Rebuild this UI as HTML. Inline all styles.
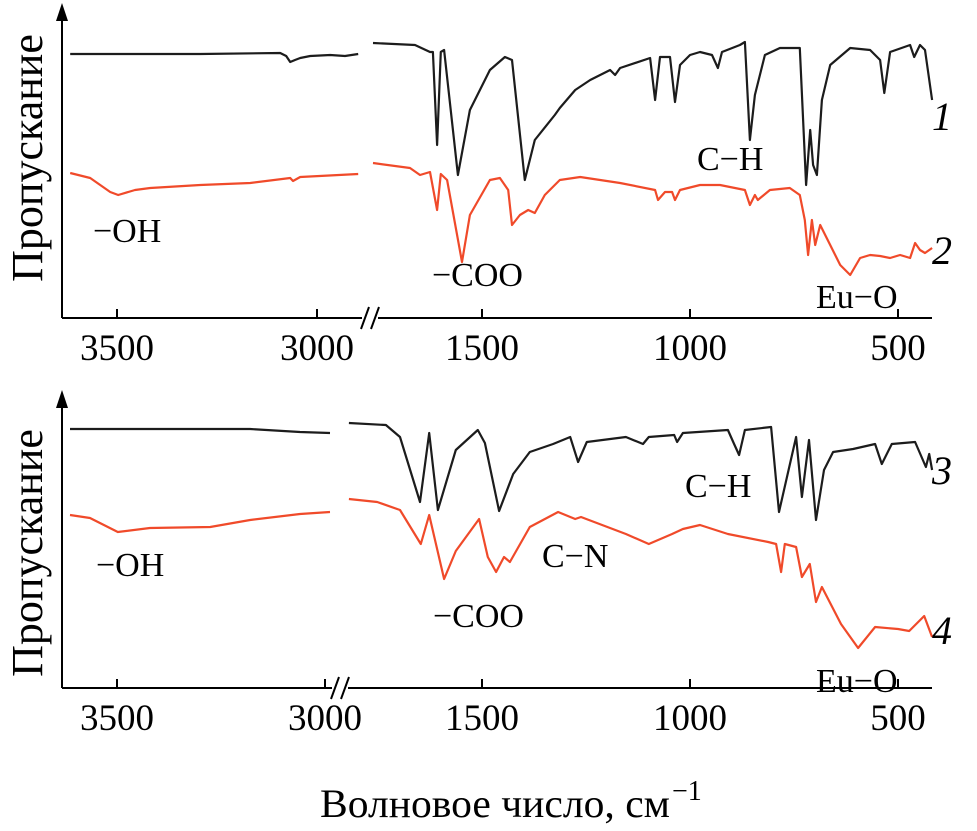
<!DOCTYPE html>
<html><head><meta charset="utf-8"><style>
html,body{margin:0;padding:0;background:#fff;}
svg{display:block;font-family:"Liberation Serif",serif;}
</style></head><body>
<svg id="chart" width="977" height="831" viewBox="0 0 977 831" xmlns="http://www.w3.org/2000/svg">
<g id="g"></g>
</svg>
<script>
// ===== Data (wavenumber cm^-1, transmittance a.u.) =====
const s1LeftWn = [3617,3292,3092,3077,3067,3055,3042,3017,2967,2930,2897];
const s1LeftT  = [264,264,265,262,256,258,260,262,263,262,264];
const s1RightWn = [1762,1661,1625,1618,1608,1599,1591,1558,1529,1481,1445,1428,1397,1373,1325,1313,1276,1240,1192,1180,1168,1096,1084,1072,1048,1036,1024,1000,976,947,933,923,880,868,856,844,820,784,736,721,711,704,695,683,663,615,567,543,533,519,471,461,447,435,418];
const s1RightT  = [275,273,266,266,173,266,268,143,208,248,261,258,138,178,203,210,228,238,248,243,250,260,218,261,261,216,253,263,266,263,250,266,273,276,178,223,263,270,270,133,188,153,143,218,253,270,268,258,225,266,273,261,273,268,218];
const s2LeftWn = [3617,3567,3517,3497,3455,3417,3292,3167,3067,3060,3042,2897];
const s2LeftT  = [145,140,126,123,128,130,133,135,140,137,141,144];
const s2RightWn = [1762,1673,1649,1625,1608,1599,1584,1548,1529,1481,1457,1437,1428,1409,1389,1373,1349,1313,1264,1168,1084,1077,1060,1043,1036,1024,976,928,868,856,844,837,808,760,736,724,716,707,699,687,663,639,615,591,567,543,519,495,471,459,447,435,418];
const s2RightT  = [155,150,143,146,108,144,138,56,103,138,140,128,93,103,108,105,123,138,141,135,128,118,126,126,118,128,133,133,128,113,123,118,128,130,123,98,63,98,73,93,73,53,43,60,63,62,60,63,60,75,68,65,70];
const s3LeftWn = [3613,3180,3060,2988];
const s3LeftT  = [259,259,256,255];
const s3RightWn = [1820,1731,1697,1649,1627,1606,1563,1510,1493,1459,1425,1385,1329,1288,1269,1248,1154,1113,1099,1038,1031,1017,909,894,882,868,805,786,745,731,714,697,678,656,608,555,539,515,459,433,425,418];
const s3RightT  = [265,263,251,186,255,178,238,258,245,177,214,236,244,251,226,246,251,244,251,253,246,255,258,244,233,258,261,176,251,191,248,168,218,236,239,244,224,244,246,221,234,218];
const s4LeftWn = [3613,3565,3498,3421,3276,3180,3060,2988];
const s4LeftT  = [173,170,156,160,161,168,174,176];
const s4RightWn = [1820,1752,1697,1647,1627,1591,1563,1507,1486,1466,1447,1433,1385,1317,1276,1262,1154,1099,1043,1017,976,909,812,793,781,772,745,731,712,697,683,637,596,555,500,473,437,418];
const s4RightT  = [189,186,178,144,173,109,137,169,131,116,131,126,161,176,169,171,154,144,154,159,163,154,146,144,116,144,141,111,124,86,101,64,40,61,59,57,72,51];
const topTicksLeft = [3500,3000];
const botTicksLeft = [3500,3000];
const ticksRight = [1500,1000,500];

const NS="http://www.w3.org/2000/svg";
const g=document.getElementById('g');
function mk(tag,attrs,parent){const e=document.createElementNS(NS,tag);for(const k in attrs)e.setAttribute(k,attrs[k]);(parent||g).appendChild(e);return e;}

const xRight = wn => 482 + (1500 - wn) * 0.416;
const xLeftTop = wn => 117 + (3500 - wn) * 0.4;
const xLeftBot = wn => 117 + (3500 - wn) * 0.416;
const yTop = v => 318 - v;
const yBot = v => 688 - v;

function line(wns, ts, xf, yf, color, name){
  const d = wns.map((w,i)=>(i?'L':'M')+xf(w).toFixed(1)+','+yf(ts[i]).toFixed(1)).join(' ');
  const p = mk('path',{d:d,fill:'none',stroke:color,'stroke-width':2.2,'stroke-linejoin':'round'});
  
  
}
const BLK='#1c1c1c', RED='#f04a2a';
line(s1LeftWn,s1LeftT,xLeftTop,yTop,BLK,'spectrum-1-left');
line(s1RightWn,s1RightT,xRight,yTop,BLK,'spectrum-1-right');
line(s2LeftWn,s2LeftT,xLeftTop,yTop,RED,'spectrum-2-left');
line(s2RightWn,s2RightT,xRight,yTop,RED,'spectrum-2-right');
line(s3LeftWn,s3LeftT,xLeftBot,yBot,BLK,'spectrum-3-left');
line(s3RightWn,s3RightT,xRight,yBot,BLK,'spectrum-3-right');
line(s4LeftWn,s4LeftT,xLeftBot,yBot,RED,'spectrum-4-left');
line(s4RightWn,s4RightT,xRight,yBot,RED,'spectrum-4-right');

function axes(axisY, topY, breakX, leftTicks, xLeft, prefix){
  const a = mk('path',{d:`M62,${axisY} L62,${topY+14} M62,${axisY} L932,${axisY}`,stroke:'#000','stroke-width':2,fill:'none'});
  
  
  const ar = mk('path',{d:`M62,${topY} L56,${topY+18} L68,${topY+18} Z`,fill:'#000'});
  
  
  const br = mk('rect',{x:breakX-8,y:axisY-3,width:16,height:6,fill:'#fff'});
  
  
  const bm = mk('path',{d:`M${breakX-9},${axisY+11} L${breakX-1},${axisY-11} M${breakX+1},${axisY+11} L${breakX+9},${axisY-11}`,stroke:'#000','stroke-width':2});
  
  
  const all = leftTicks.map(t=>[t,xLeft(t)]).concat(ticksRight.map(t=>[t,xRight(t)]));
  all.forEach(([t,x])=>{
    const tk = mk('line',{x1:x,x2:x,y1:axisY,y2:axisY-9,stroke:'#000','stroke-width':2});
    
    
    const tl = mk('text',{x:x,y:axisY+42,'text-anchor':'middle','font-size':37});
    tl.textContent = t;
    
    
  });
}
axes(318,3,370,topTicksLeft,xLeftTop,'top');
axes(688,390,340,botTicksLeft,xLeftBot,'bottom');

function txt(s,x,y,size,name,extra){
  const t = mk('text',Object.assign({x:x,y:y,'font-size':size},extra||{}));
  t.textContent=s;
  
  
  return t;
}
txt('Пропускание',0,0,44,'y-axis-title-top',{transform:'translate(42,158) rotate(-90)','text-anchor':'middle'});
txt('Пропускание',0,0,44,'y-axis-title-bottom',{transform:'translate(42,553) rotate(-90)','text-anchor':'middle'});
txt('1',932,130,40,'series-label-1',{'font-style':'italic'});
txt('2',932,264,40,'series-label-2',{'font-style':'italic'});
txt('3',932,484,40,'series-label-3',{'font-style':'italic'});
txt('4',932,644,40,'series-label-4',{'font-style':'italic'});
txt('−OH',93,242,34,'annot-oh-top');
txt('−COO',432,286,34,'annot-coo-top');
txt('C−H',697,170,34,'annot-ch-top');
txt('Eu−O',816,308,34,'annot-euo-top');
txt('−OH',96,576,34,'annot-oh-bottom');
txt('−COO',433,627,34,'annot-coo-bottom');
txt('C−N',542,567,34,'annot-cn-bottom');
txt('C−H',685,497,34,'annot-ch-bottom');
txt('Eu−O',816,692,34,'annot-euo-bottom');
const xt = txt('Волновое число, см',320,817,40,'x-axis-title',{textLength:350,lengthAdjust:'spacingAndGlyphs'});
const xs = txt('−1',672,800,28,'x-axis-title-exponent');
</script>
</body></html>
